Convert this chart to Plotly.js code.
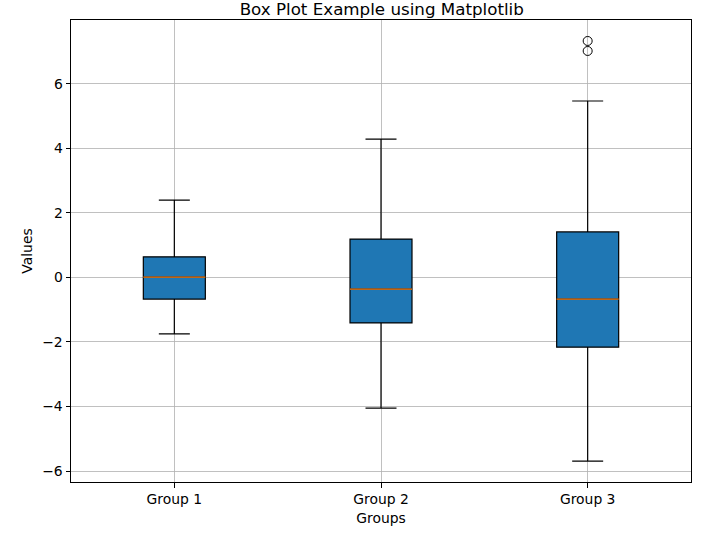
<!DOCTYPE html>
<html>
<head>
<meta charset="utf-8">
<script src="https://cdn.plot.ly/plotly-3.0.1.min.js"></script>
<style>html,body{margin:0;padding:0;background:#fff}</style>
</head>
<body>
<div id="chart" style="width:723px;height:533px"></div>
<script>
// box stats
var groups = ['Group 1', 'Group 2', 'Group 3'];
var positions = [1, 2, 3];
var lowerWhisker = [-1.75, -4.05, -5.69];
var q1 = [-0.67, -1.41, -2.16];
var medians = [0.01, -0.36, -0.67];
var q3 = [0.64, 1.19, 1.41];
var upperWhisker = [2.40, 4.29, 5.47];
var outlierGroup = [3, 3];
var outlierValues = [7.02, 7.33];

var boxWidth = 0.3;

var traces = positions.map(function(p, i) {
  return {
    type: 'box',
    x: [p],
    q1: [q1[i]],
    median: [medians[i]],
    q3: [q3[i]],
    lowerfence: [lowerWhisker[i]],
    upperfence: [upperWhisker[i]],
    width: boxWidth,
    whiskerwidth: 0.5,
    fillcolor: '#1f77b4',
    line: {color: '#000', width: 1.2},
    boxpoints: false,
    showlegend: false,
    hoverinfo: 'skip'
  };
});

// orange median lines on top of the boxes
var mx = [], my = [];
positions.forEach(function(p, i) {
  mx.push(p - boxWidth / 2, p + boxWidth / 2, null);
  my.push(medians[i], medians[i], null);
});
traces.push({
  type: 'scatter', mode: 'lines', x: mx, y: my,
  line: {color: '#ff7f0e', width: 1.3},
  showlegend: false, hoverinfo: 'skip'
});

traces.push({
  type: 'scatter', mode: 'markers',
  x: outlierGroup, y: outlierValues,
  marker: {symbol: 'circle-open', size: 9, color: '#000', line: {width: 1}},
  showlegend: false, hoverinfo: 'skip'
});

var font = {family: 'DejaVu Sans', size: 13.9, color: '#000'};

var layout = {
  width: 723, height: 533,
  margin: {l: 71, r: 32, t: 20, b: 51},
  paper_bgcolor: '#fff', plot_bgcolor: '#fff',
  font: font,
  title: {text: 'Box Plot Example using Matplotlib', font: {family: 'DejaVu Sans', size: 16.7, color: '#000'},
          x: 0.528, xanchor: 'center', y: 0.982, yanchor: 'middle'},
  xaxis: {
    range: [0.5, 3.5], tickvals: positions, ticktext: groups,
    showgrid: true, gridcolor: '#b0b0b0', gridwidth: 0.8,
    zeroline: false, showline: true, linecolor: '#000', linewidth: 1, mirror: true,
    ticks: 'outside', ticklen: 4.5, tickcolor: '#000',
    title: {text: 'Groups', font: font, standoff: 7}
  },
  yaxis: {
    range: [-6.34, 7.98], tickvals: [-6, -4, -2, 0, 2, 4, 6],
    ticktext: ['\u22126', '\u22124', '\u22122', '0', '2', '4', '6'],
    showgrid: true, gridcolor: '#b0b0b0', gridwidth: 0.8,
    zeroline: false, showline: true, linecolor: '#000', linewidth: 1, mirror: true,
    ticks: 'outside', ticklen: 4.5, tickcolor: '#000',
    title: {text: 'Values', font: font, standoff: 6}
  },
  hovermode: false
};

Plotly.newPlot('chart', traces, layout, {displayModeBar: false, staticPlot: true});
</script>
</body>
</html>
